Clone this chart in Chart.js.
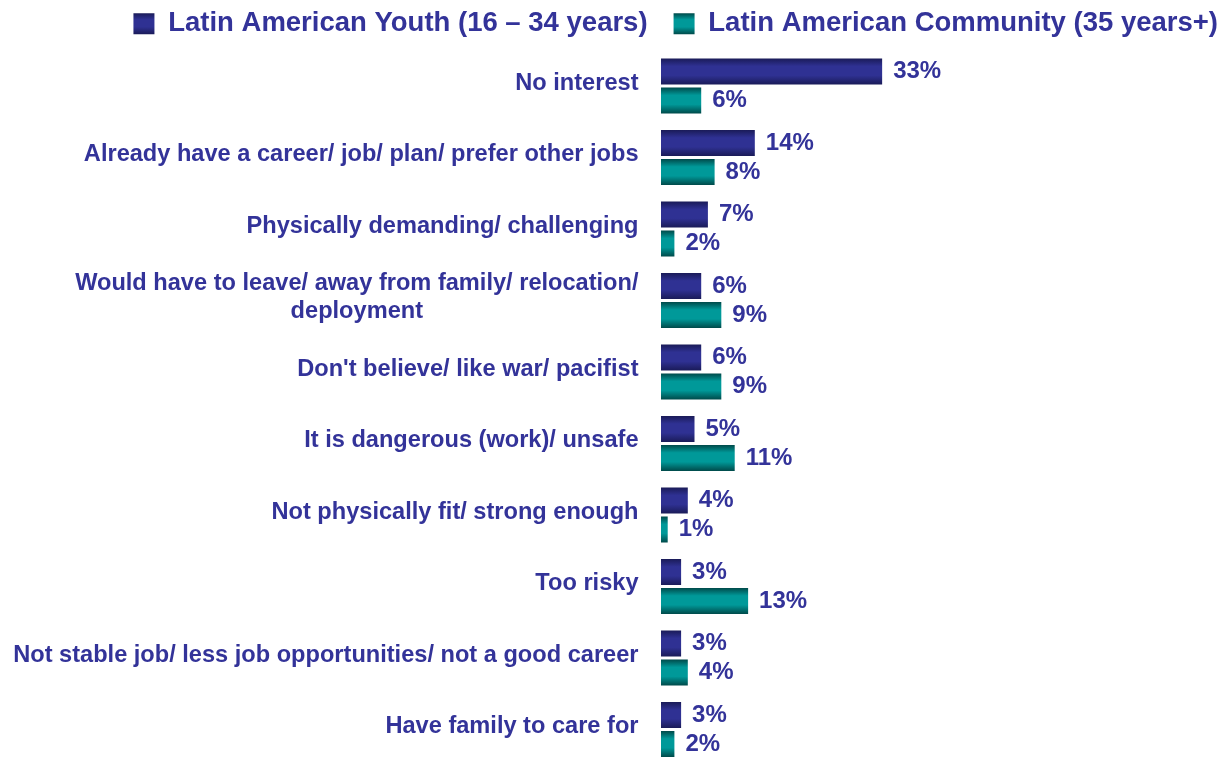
<!DOCTYPE html>
<html>
<head>
<meta charset="utf-8">
<script src="https://cdn.jsdelivr.net/npm/chart.js@4"></script>
<style>
  html, body { margin: 0; padding: 0; background: #fff; overflow: hidden; }
  #wrap { position: relative; top: -16px; width: 1244px; height: 790px; }
</style>
</head>
<body>
<div id="wrap"><canvas id="reasonsChart" width="1244" height="790"></canvas></div>
<script>
const reasons = [
  'No interest',
  'Already have a career/ job/ plan/ prefer other jobs',
  'Physically demanding/ challenging',
  ['Would have to leave/ away from family/ relocation/', 'deployment'],
  "Don't believe/ like war/ pacifist",
  'It is dangerous (work)/ unsafe',
  'Not physically fit/ strong enough',
  'Too risky',
  'Not stable job/ less job opportunities/ not a good career',
  'Have family to care for'
];
const youth = [33, 14, 7, 6, 6, 5, 4, 3, 3, 3];
const community = [6, 8, 2, 9, 9, 11, 1, 13, 4, 2];
const seriesNames = ['Latin American Youth (16 \u2013 34 years)', 'Latin American Community (35 years+)'];

const FONT = '"Liberation Sans", Arial, Helvetica, sans-serif';
const TEXT_COLOR = '#333399';
const CAT_PCT = 0.811;
const BAR_PCT = 0.897;
const LEGEND_FONT = 27.5;
const LEGEND_BOX = 21;
const LEGEND_PAD = 26;
const SHADES = [['#2F3193', '#1A1B58'], ['#009999', '#004A4A']];

function shadeBetween(ctx, top, bottom, mid, edge) {
  const g = ctx.createLinearGradient(0, top, 0, bottom);
  g.addColorStop(0, edge);
  g.addColorStop(0.3, mid);
  g.addColorStop(0.65, mid);
  g.addColorStop(1, edge);
  return g;
}

// each bar gets a vertical shade: darker along the top and bottom edges
function shaded(mid, edge) {
  return (c) => {
    const chart = c.chart;
    const y = chart.scales.y;
    if (c.type !== 'data' || !chart.chartArea || !y) return mid;
    const band = y.height / reasons.length;
    const chunk = band * CAT_PCT / 2;
    const centre = y.getPixelForValue(c.dataIndex) + (c.datasetIndex - 0.5) * chunk;
    const half = chunk * BAR_PCT / 2;
    return shadeBetween(chart.ctx, centre - half, centre + half, mid, edge);
  };
}

// percentage printed just past the end of every bar
const valueLabels = {
  id: 'valueLabels',
  afterDatasetsDraw(chart) {
    const ctx = chart.ctx;
    ctx.save();
    ctx.font = 'bold 24px ' + FONT;
    ctx.fillStyle = TEXT_COLOR;
    ctx.textAlign = 'left';
    ctx.textBaseline = 'middle';
    chart.data.datasets.forEach((ds, i) => {
      chart.getDatasetMeta(i).data.forEach((bar, j) => {
        ctx.fillText(ds.data[j] + '%', bar.x + 11, bar.y);
      });
    });
    ctx.restore();
  }
};

// category names, right edge aligned; wrapped lines centred on each other
const reasonLabels = {
  id: 'reasonLabels',
  afterDraw(chart) {
    const { ctx, chartArea } = chart;
    const y = chart.scales.y;
    ctx.save();
    ctx.font = 'bold 23.6px ' + FONT;
    ctx.fillStyle = TEXT_COLOR;
    ctx.textAlign = 'center';
    ctx.textBaseline = 'middle';
    const right = chartArea.left - 22.5;
    const lineH = 28;
    reasons.forEach((r, i) => {
      const lines = [].concat(r);
      const w = Math.max(...lines.map(l => ctx.measureText(l).width));
      const top = y.getPixelForValue(i) - 3 - (lines.length - 1) * lineH / 2;
      lines.forEach((l, k) => ctx.fillText(l, right - w / 2, top + k * lineH));
    });
    ctx.restore();
  }
};

const ctx = document.getElementById('reasonsChart').getContext('2d');

new Chart(ctx, {
  type: 'bar',
  data: {
    labels: reasons,
    datasets: [
      {
        label: seriesNames[0],
        data: youth,
        backgroundColor: shaded(SHADES[0][0], SHADES[0][1]),
        borderWidth: 0,
        categoryPercentage: CAT_PCT,
        barPercentage: BAR_PCT
      },
      {
        label: seriesNames[1],
        data: community,
        backgroundColor: shaded(SHADES[1][0], SHADES[1][1]),
        borderWidth: 0,
        categoryPercentage: CAT_PCT,
        barPercentage: BAR_PCT
      }
    ]
  },
  options: {
    indexAxis: 'y',
    responsive: false,
    animation: false,
    layout: { padding: { left: 0, right: 0, top: 0, bottom: 8.75 } },
    plugins: {
      legend: {
        position: 'top',
        align: 'end',
        labels: {
          color: TEXT_COLOR,
          font: { family: FONT, size: LEGEND_FONT, weight: 'bold' },
          boxWidth: LEGEND_BOX,
          boxHeight: LEGEND_BOX,
          padding: LEGEND_PAD,
          generateLabels(chart) {
            const items = Chart.defaults.plugins.legend.labels.generateLabels(chart);
            const boxTop = LEGEND_PAD + (LEGEND_FONT - LEGEND_BOX) / 2;
            items.forEach((item, i) => {
              item.fillStyle = shadeBetween(chart.ctx, boxTop, boxTop + LEGEND_BOX, SHADES[i][0], SHADES[i][1]);
              item.lineWidth = 0;
              item.strokeStyle = 'rgba(0,0,0,0)';
            });
            return items;
          }
        }
      },
      tooltip: { enabled: false }
    },
    scales: {
      x: {
        position: 'top',
        min: 0,
        max: 87,
        ticks: { display: false },
        grid: { display: false },
        border: { display: false },
        afterFit: (s) => { s.height = 2.75; }
      },
      y: {
        ticks: { display: false },
        grid: { display: false },
        border: { display: false },
        afterFit: (s) => { s.width = 661; }
      }
    }
  },
  plugins: [valueLabels, reasonLabels]
});
</script>
</body>
</html>
